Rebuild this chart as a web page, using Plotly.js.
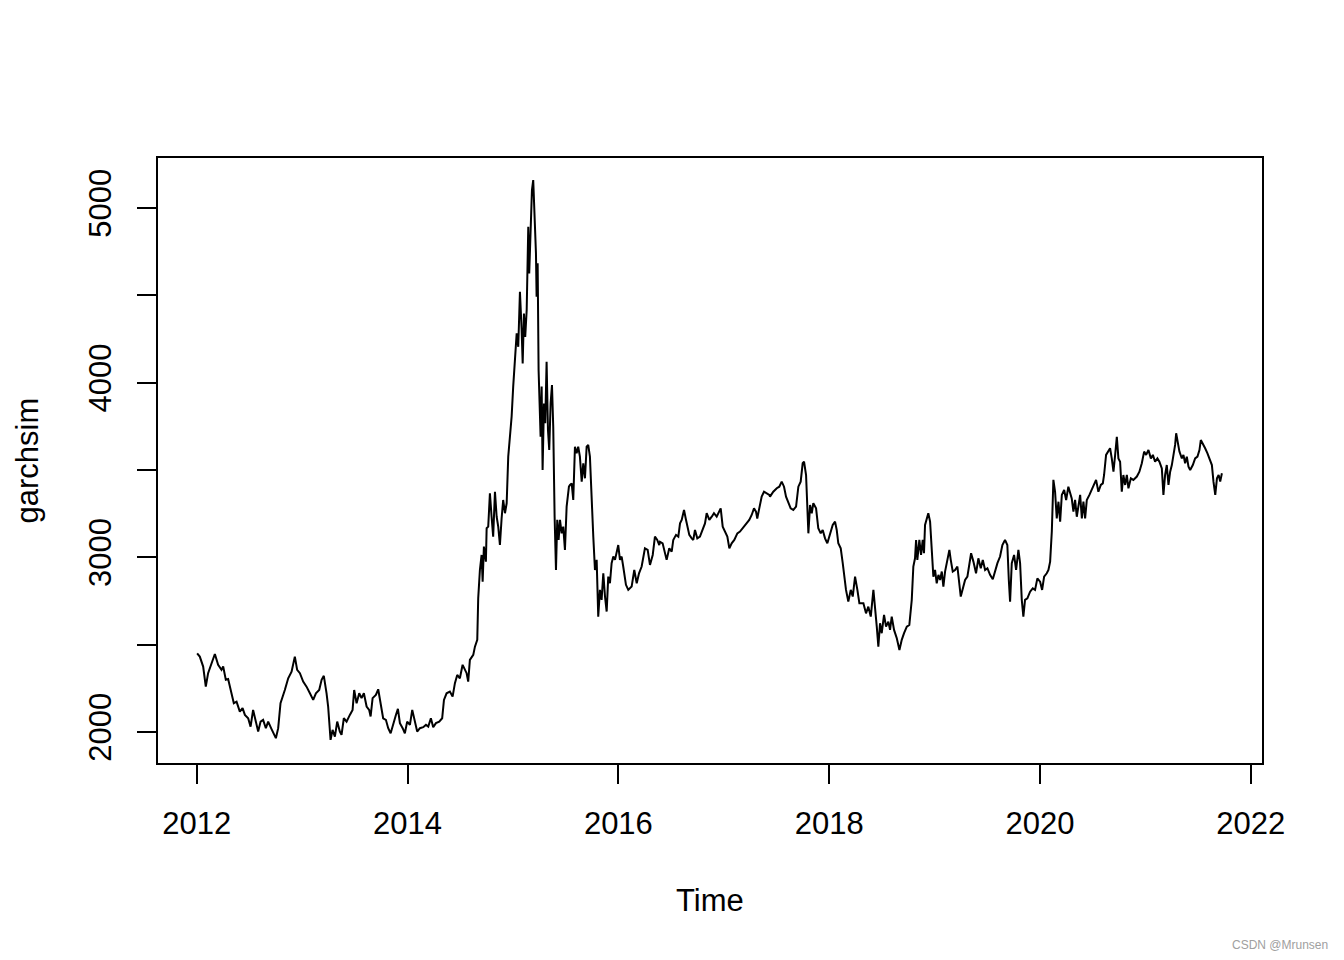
<!DOCTYPE html>
<html>
<head>
<meta charset="utf-8">
<script src="https://cdn.plot.ly/plotly-3.0.1.min.js"></script>
<style>html,body{margin:0;padding:0;background:#fff;}#chart{width:1344px;height:960px;}</style>
</head>
<body>
<div id="chart"></div>
<script>
// Time index (decimal years)
const years = [
2012.003,2012.028,2012.060,2012.085,2012.107,2012.140,2012.171,2012.202,2012.234,2012.250,
2012.275,2012.297,2012.329,2012.351,2012.377,2012.408,2012.434,2012.456,2012.487,2012.510,
2012.534,2012.560,2012.582,2012.605,2012.629,2012.655,2012.677,2012.709,2012.750,2012.772,
2012.794,2012.835,2012.867,2012.899,2012.930,2012.952,2012.978,2013.009,2013.041,2013.073,
2013.104,2013.130,2013.161,2013.184,2013.205,2013.231,
2013.246,2013.269,2013.288,2013.310,2013.332,2013.357,2013.373,2013.395,2013.421,2013.452,
2013.478,2013.493,2013.516,2013.541,2013.563,2013.585,2013.611,2013.635,2013.649,2013.668,
2013.699,2013.721,2013.744,2013.768,2013.794,2013.816,2013.839,2013.863,2013.889,2013.908,
2013.927,2013.953,2013.974,2013.996,2014.022,2014.044,2014.069,2014.091,2014.117,2014.148,
2014.174,2014.196,2014.221,2014.243,2014.269,2014.300,2014.328,2014.345,2014.370,2014.401,
2014.427,2014.449,2014.471,2014.496,2014.522,2014.544,2014.560,2014.575,2014.591,2014.623,
2014.639,2014.661,
2014.670,2014.686,2014.702,2014.712,2014.724,2014.743,2014.750,2014.765,2014.781,2014.797,
2014.812,2014.829,2014.845,2014.860,2014.876,2014.892,2014.907,2014.924,2014.940,2014.955,
2014.971,2014.987,2015.002,2015.018,2015.035,2015.050,2015.066,2015.082,2015.092,2015.104,
2015.116,2015.130,2015.145,2015.154,2015.167,2015.180,2015.192,2015.205,2015.218,2015.224,
2015.234,2015.243,2015.256,2015.262,2015.272,2015.281,2015.294,2015.306,2015.319,2015.332,
2015.344,2015.357,2015.370,2015.382,2015.395,2015.408,2015.420,2015.433,2015.446,2015.462,
2015.477,2015.493,2015.509,2015.531,
2015.541,2015.557,2015.572,2015.588,2015.604,2015.619,2015.635,2015.652,2015.667,2015.683,
2015.699,2015.714,2015.730,2015.747,2015.762,2015.778,2015.794,2015.809,2015.825,2015.841,
2015.857,2015.873,2015.889,2015.904,2015.920,2015.936,2015.952,2015.968,2015.984,2015.999,
2016.015,2016.031,2016.046,2016.072,2016.094,2016.126,2016.151,2016.174,2016.196,2016.221,
2016.252,2016.278,2016.300,2016.326,2016.347,2016.369,2016.388,
2016.395,2016.420,2016.442,2016.458,2016.483,2016.506,2016.521,2016.547,2016.569,2016.585,
2016.601,2016.623,2016.639,2016.654,2016.673,2016.696,2016.711,2016.727,2016.749,2016.774,
2016.800,2016.822,2016.838,2016.863,2016.886,2016.907,2016.933,2016.958,2016.971,2016.990,
2017.012,2017.034,2017.053,2017.075,2017.100,2017.129,2017.154,2017.180,2017.211,2017.242,
2017.265,2017.287,2017.306,2017.318,2017.337,2017.360,2017.382,2017.408,2017.432,
2017.439,2017.470,2017.503,2017.527,2017.550,2017.572,2017.591,2017.613,2017.635,2017.660,
2017.686,2017.708,2017.730,2017.749,2017.762,2017.781,2017.793,2017.803,2017.819,2017.835,
2017.850,2017.876,2017.897,2017.920,2017.939,2017.961,2017.983,2018.008,2018.034,2018.056,
2018.072,2018.087,2018.110,2018.129,2018.141,2018.160,2018.182,2018.205,2018.224,2018.246,
2018.268,2018.287,
2018.325,2018.350,2018.372,2018.395,2018.420,2018.436,2018.452,2018.467,2018.483,2018.499,
2018.521,2018.540,2018.562,2018.578,2018.594,2018.616,2018.642,2018.667,2018.689,2018.711,
2018.737,2018.761,2018.784,2018.799,2018.815,2018.825,2018.837,2018.856,2018.872,2018.888,
2018.900,2018.910,2018.926,2018.941,2018.958,2018.974,2018.989,2019.005,2019.021,2019.037,
2019.053,2019.069,2019.084,2019.100,2019.122,2019.141,2019.154,2019.173,2019.195,2019.217,
2019.249,2019.268,2019.290,2019.312,2019.331,2019.347,2019.369,2019.394,2019.416,2019.439,
2019.458,2019.480,2019.502,2019.527,2019.553,2019.575,2019.597,2019.622,2019.644,2019.669,
2019.691,2019.705,2019.717,2019.733,2019.755,2019.774,2019.796,2019.812,2019.828,2019.843,
2019.859,2019.881,2019.907,2019.932,2019.954,2019.976,2020.002,2020.021,2020.040,2020.065,
2020.081,2020.097,2020.113,2020.128,2020.144,2020.160,2020.176,2020.192,2020.208,2020.230,
2020.249,2020.270,2020.286,2020.302,2020.318,2020.334,2020.350,2020.365,2020.382,2020.398,
2020.413,2020.429,2020.445,2020.470,2020.493,2020.514,2020.533,2020.555,2020.578,2020.597,
2020.609,2020.628,2020.650,2020.666,2020.682,2020.698,2020.714,2020.730,2020.745,2020.761,
2020.777,2020.792,2020.809,2020.825,2020.840,2020.863,2020.887,2020.920,2020.944,2020.967,
2020.989,2021.008,2021.030,2021.053,2021.072,2021.093,2021.115,2021.134,2021.157,2021.172,
2021.188,2021.204,2021.220,2021.236,2021.252,2021.267,2021.283,2021.293,2021.305,2021.324,
2021.347,2021.362,2021.378,2021.394,2021.410,2021.426,2021.451,2021.473,2021.495,2021.514,
2021.527,2021.546,2021.568,2021.590,2021.609,2021.632,2021.647,2021.664,2021.680,2021.696,
2021.711,2021.727
];

// garchsim values
const garchsim = [
2450,2431,2374,2259,2336,2393,2446,2384,2355,2374,
2298,2302,2222,2164,2173,2116,2136,2097,2078,2030,
2126,2050,2002,2059,2069,2021,2059,2016,1964,2021,
2164,2240,2307,2345,2431,2355,2336,2288,2259,2221,
2183,2221,2240,2298,2321,2221,
2145,1954,2011,1973,2059,2002,1983,2078,2059,2097,
2126,2240,2164,2221,2193,2221,2145,2126,2088,2193,
2212,2244,2164,2078,2069,2021,1992,2050,2097,2132,
2050,2021,1992,2059,2040,2126,2069,2002,2021,2027,
2040,2030,2078,2027,2050,2059,2078,2183,2221,2231,
2202,2279,2326,2307,2384,2355,2336,2288,2412,2441,
2488,2527,
2765,2927,3013,2860,3061,2975,3166,3175,3366,3232,
3118,3375,3232,3175,3070,3222,3328,3252,3309,3576,
3690,3805,3977,4129,4282,4205,4520,4301,4110,4396,
4262,4416,4892,4625,4931,5102,5160,4931,4740,4492,
4683,4072,3881,3690,3977,3500,3881,3767,4120,3729,
3614,3881,3986,3748,3232,2927,3214,3099,3214,3137,
3175,3042,3290,3404,
3414,3423,3328,3633,3595,3633,3576,3433,3538,3452,
3633,3643,3576,3290,3118,2927,2985,2660,2813,2756,
2908,2775,2689,2889,2851,2966,3004,2985,3023,3070,
2985,3004,2947,2842,2813,2832,2927,2851,2908,2947,
3051,3042,2956,3013,3118,3099,3070,
3089,3080,3013,2985,3051,3032,3099,3128,3118,3194,
3214,3271,3222,3175,3128,3108,3099,3156,3108,3118,
3156,3194,3252,3214,3232,3252,3232,3261,3280,3175,
3147,3118,3051,3080,3099,3137,3147,3166,3194,3214,
3242,3280,3261,3222,3280,3347,3375,3366,3357,
3347,3375,3395,3404,3433,3404,3347,3309,3280,3271,
3290,3404,3433,3538,3547,3471,3309,3137,3299,3252,
3309,3280,3166,3137,3156,3108,3080,3128,3185,3204,
3156,3080,3051,2966,2889,2813,2746,2813,2775,2889,
2813,2736,
2736,2679,2717,2660,2813,2679,2603,2488,2622,2565,
2670,2603,2631,2584,2660,2584,2536,2469,2527,2565,
2603,2612,2756,2947,2994,3099,2985,3099,3013,3099,
3023,3185,3222,3252,3204,3042,2889,2927,2851,2899,
2870,2918,2832,2918,2994,3042,2985,2918,2927,2947,
2775,2813,2870,2889,2966,3023,2975,2908,2994,2937,
2985,2927,2937,2899,2874,2927,2966,3004,3070,3099,
3070,2870,2746,2966,3013,2927,3042,2966,2756,2660,
2756,2765,2803,2822,2813,2879,2860,2813,2889,2908,
2927,2975,3147,3443,3375,3222,3318,3204,3357,3385,
3328,3404,3375,3337,3261,3328,3232,3299,3357,3222,
3318,3222,3328,3357,3385,3414,3443,3375,3414,3423,
3471,3586,3605,3624,3566,3490,3586,3690,3566,3547,
3375,3471,3414,3471,3395,3452,3443,3462,3490,3538,
3605,3586,3614,3566,3586,3547,3566,3547,3509,3357,
3471,3528,3414,3490,3528,3586,3643,3710,3662,3605,
3566,3586,3538,3576,3519,3500,3528,3566,3576,3614,
3671,3652,3624,3595,3566,3528,3433,3357,3452,3471,
3433,3481
];

const xTicks = [2012, 2014, 2016, 2018, 2020, 2022];
const xTickLabels = ["2012", "2014", "2016", "2018", "2020", "2022"];
const yTicks = [2000, 2500, 3000, 3500, 4000, 4500, 5000];
const yTickLabels = ["2000", "", "3000", "", "4000", "", "5000"];

const FONT = "'Liberation Sans', Arial, sans-serif";

const trace = {
  x: years, y: garchsim, type: 'scatter', mode: 'lines',
  line: {color: '#000000', width: 2}, hoverinfo: 'skip'
};

const layout = {
  width: 1344, height: 960,
  margin: {l: 157, r: 81, t: 157, b: 196},
  paper_bgcolor: '#ffffff', plot_bgcolor: '#ffffff',
  showlegend: false,
  font: {family: FONT, color: '#000000', size: 31},
  xaxis: {
    range: [2011.622, 2022.117], showgrid: false, zeroline: false, showline: false,
    tickmode: 'array', tickvals: xTicks, ticktext: xTickLabels,
    ticks: 'outside', ticklen: 19, tickwidth: 2, tickcolor: '#000',
    ticklabelstandoff: 13,
    tickfont: {family: FONT, size: 31, color: '#000'}
  },
  yaxis: {
    range: [1816, 5292], showgrid: false, zeroline: false, showline: false,
    tickmode: 'array', tickvals: yTicks, ticktext: yTickLabels,
    ticks: 'outside', ticklen: 19, tickwidth: 2, tickcolor: '#000',
    tickangle: -90, ticklabelstandoff: 14,
    tickfont: {family: FONT, size: 31, color: '#000'}
  },
  shapes: [{
    type: 'rect', xref: 'paper', yref: 'paper', x0: 0, x1: 1, y0: 0, y1: 1,
    line: {color: '#000', width: 2}, fillcolor: 'rgba(0,0,0,0)'
  }],
  annotations: [
    {text: 'Time', xref: 'paper', yref: 'paper', x: 0.5, y: (764 - 900) / 607,
     xanchor: 'center', yanchor: 'middle', showarrow: false,
     font: {family: FONT, size: 31, color: '#000'}},
    {text: 'garchsim', xref: 'paper', yref: 'paper', x: (27 - 157) / 1106, y: 0.5,
     xanchor: 'center', yanchor: 'middle', textangle: -90, showarrow: false,
     font: {family: FONT, size: 31, color: '#000'}},
    {text: 'CSDN @Mrunsen', xref: 'paper', yref: 'paper', x: (1330 - 157) / 1106, y: (764 - 945) / 607,
     xanchor: 'right', yanchor: 'middle', showarrow: false,
     font: {family: FONT, size: 12, color: '#a0a0a0'}}
  ]
};

Plotly.newPlot('chart', [trace], layout, {displayModeBar: false, staticPlot: true});
</script>
</body>
</html>
